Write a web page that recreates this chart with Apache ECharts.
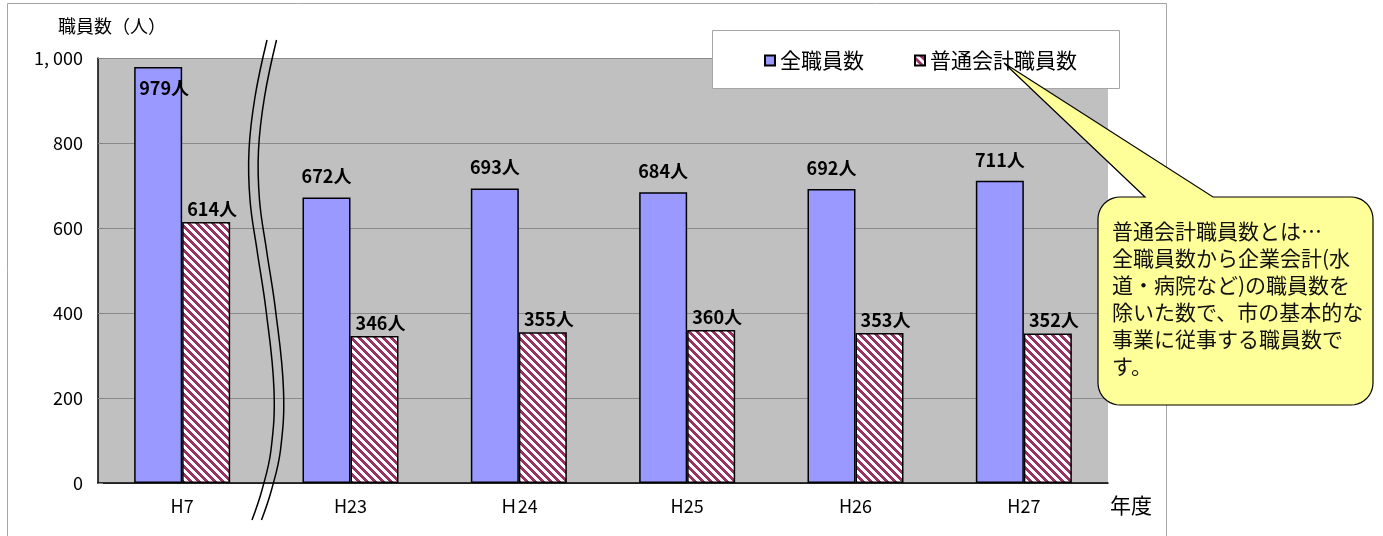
<!DOCTYPE html>
<html><head><meta charset="utf-8">
<script src="https://cdn.jsdelivr.net/npm/echarts@6/dist/echarts.min.js"></script>
<style>html,body{margin:0;padding:0;background:#fff}#c{width:1383px;height:536px}</style>
</head><body><div id="c"></div>
<script>
// ---- data ----
const categories = ['H7', 'H23', 'Ｈ24', 'H25', 'H26', 'H27'];
const totalStaff = [979, 672, 693, 684, 692, 711];
const generalStaff = [614, 346, 355, 360, 353, 352];
const seriesNames = ['全職員数', '普通会計職員数'];
const yTickLabels = { 0: '0', 200: '200', 400: '400', 600: '600', 800: '800', 1000: '1, 000' };
const yAxisTitle = '職員数（人）';
const xAxisTitle = '年度';
const calloutLines = [
  '普通会計職員数とは…',
  '全職員数から企業会計(水',
  '道・病院など)の職員数を',
  '除いた数で、市の基本的な',
  '事業に従事する職員数で',
  'す。'
];

const FONT = '"Noto Sans CJK JP", "Noto Sans", sans-serif';

function hatch() {
  const s = 8;
  const c = document.createElement('canvas');
  c.width = s; c.height = s;
  const g = c.getContext('2d');
  const img = g.createImageData(s, s);
  for (let y = 0; y < s; y++) {
    for (let x = 0; x < s; x++) {
      const m = ((x - y) % s + s) % s;
      const white = m < 4;
      const i = (y * s + x) * 4;
      img.data[i] = white ? 255 : 0x99;
      img.data[i + 1] = white ? 255 : 0x33;
      img.data[i + 2] = white ? 255 : 0x66;
      img.data[i + 3] = 255;
    }
  }
  g.putImageData(img, 0, 0);
  return c;
}

function calloutPoints() {
  const x0 = 1098, y0 = 197, x1 = 1373, y1 = 405, r = 22;
  const pts = [];
  pts.push([x0 + r, y0], [1145, y0], [1004, 63], [1213, y0], [x1 - r, y0]);
  const arc = (cx, cy, a0, a1) => {
    for (let i = 1; i <= 10; i++) {
      const a = (a0 + (a1 - a0) * i / 10) * Math.PI / 180;
      pts.push([cx + r * Math.cos(a), cy + r * Math.sin(a)]);
    }
  };
  arc(x1 - r, y0 + r, -90, 0);
  pts.push([x1, y1 - r]);
  arc(x1 - r, y1 - r, 0, 90);
  pts.push([x0 + r, y1]);
  arc(x0 + r, y1 - r, 90, 180);
  pts.push([x0, y0 + r]);
  arc(x0 + r, y0 + r, 180, 270);
  return pts;
}

const breakL = [[267,40],[255,97],[249,150],[250,200],[257,250],[266,310],[274,390],[271,450],[262,490],[252,520]];
const breakR = breakL.map(p => [p[0] + 9.5, p[1]]);

const chart = echarts.init(document.getElementById('c'), null, { renderer: 'canvas' });
chart.setOption({
  animation: false,
  backgroundColor: '#ffffff',
  textStyle: { fontFamily: FONT },
  grid: { left: 98, top: 58, width: 1010, height: 425, show: true, backgroundColor: '#C0C0C0', borderWidth: 0, containLabel: false },
  legend: {
    data: seriesNames, left: 759, top: 45, itemWidth: 10, itemHeight: 10, itemGap: 50, icon: 'rect', z: 5,
    textStyle: { fontSize: 21, color: '#000', fontFamily: FONT }
  },
  xAxis: {
    type: 'category', data: categories,
    axisLine: { lineStyle: { color: '#000', width: 1.5 } },
    axisTick: { inside: true, length: 6, lineStyle: { color: '#808080' } },
    axisLabel: { color: '#000', fontSize: 18, margin: 14, fontFamily: FONT }
  },
  yAxis: {
    type: 'value', min: 0, max: 1000, interval: 200,
    axisLine: { show: true, lineStyle: { color: '#000', width: 1.5 } },
    axisTick: { show: true, inside: true, length: 5, lineStyle: { color: '#808080' } },
    splitLine: { lineStyle: { color: '#8a8a8a', width: 1 } },
    axisLabel: { color: '#000', fontSize: 18, margin: 15, fontFamily: FONT, formatter: v => yTickLabels[v] }
  },
  series: [
    {
      name: seriesNames[0], type: 'bar', data: totalStaff.map((v, i) => i === 0 ? {
        value: v, label: { position: 'insideTop', distance: 12, offset: [6, 0] } } : v),
      barWidth: 48, barGap: '0%',
      itemStyle: { color: '#9999FF', borderColor: '#000', borderWidth: 1.5 },
      label: { show: true, position: 'top', distance: 12, formatter: '{c}人', fontSize: 18, fontWeight: 'bold', color: '#000', fontFamily: FONT }
    },
    {
      name: seriesNames[1], type: 'bar', data: generalStaff,
      barWidth: 48, barGap: '0%',
      itemStyle: { color: { image: hatch(), repeat: 'repeat' }, borderColor: '#000', borderWidth: 1.5 },
      label: { show: true, position: 'top', distance: 4, offset: [6, 0], formatter: '{c}人', fontSize: 18, fontWeight: 'bold', color: '#000', fontFamily: FONT }
    }
  ],
  graphic: [
    { type: 'rect', z: 15, silent: true, shape: { x: 7.5, y: 3.5, width: 1159, height: 560 }, style: { fill: 'none', stroke: '#a6a6a6', lineWidth: 1 } },
    { type: 'rect', z: 3, shape: { x: 712.5, y: 30.5, width: 407, height: 58 }, style: { fill: '#fff', stroke: '#a6a6a6', lineWidth: 1 } },
    { type: 'text', z: 10, left: 58, top: 17, style: { text: yAxisTitle, fill: '#000', font: '18px ' + FONT } },
    { type: 'text', z: 10, left: 1110, top: 495, style: { text: xAxisTitle, fill: '#000', font: '21px ' + FONT } },
    { type: 'polyline', z: 20, shape: { points: breakL, smooth: 0.4 }, style: { stroke: '#000', lineWidth: 1.5, fill: null } },
    { type: 'polyline', z: 20, shape: { points: breakR, smooth: 0.4 }, style: { stroke: '#000', lineWidth: 1.5, fill: null } },
    { type: 'polygon', z: 30, shape: { points: calloutPoints() }, style: { fill: '#FFFF99', stroke: '#000', lineWidth: 1.2 } },
    { type: 'text', z: 31, left: 1112, top: 218, style: { text: calloutLines.join('\n'), fill: '#111', font: '21px ' + FONT, lineHeight: 27 } }
  ]
});
</script></body></html>
